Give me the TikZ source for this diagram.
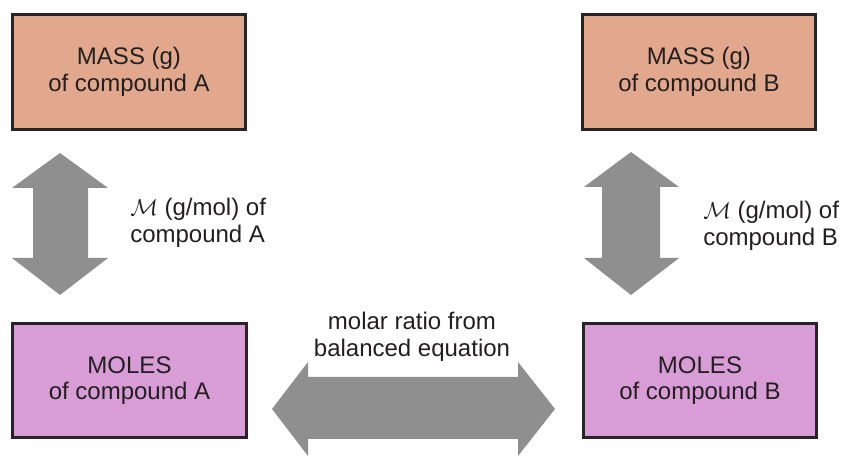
\documentclass[tikz,border=0pt]{standalone}
\usepackage{fontspec}
\setmainfont{Liberation Sans}
\definecolor{peach}{RGB}{226,168,142}
\definecolor{lilac}{RGB}{216,157,214}
\definecolor{arrowgray}{RGB}{143,143,143}
\definecolor{edge}{RGB}{40,36,38}
\definecolor{ink}{RGB}{35,31,32}
\begin{document}
\begin{tikzpicture}[x=0.75pt,y=-0.75pt,
  box/.style={draw=edge,line width=2.2pt,minimum width=175pt,minimum height=86pt,
    inner sep=0pt,align=center,text=ink,font=\fontsize{18}{20}\selectfont},
  massbox/.style={box,fill=peach},
  molebox/.style={box,fill=lilac},
  lbl/.style={inner sep=0pt,text=ink,font=\fontsize{18}{20}\selectfont},
  blockarrow/.style={fill=arrowgray,draw=none}]
\clip (0,0) rectangle (844,456);
\fill[white] (0,0) rectangle (844,456);
\node[massbox] (massA) at (129,72) {MASS (g)\\of compound A};
\node[massbox] (massB) at (699,72) {MASS (g)\\of compound B};
\node[molebox] (molA) at (129.5,380.5) {MOLES\\of compound A};
\node[molebox] (molB) at (700,380.5) {MOLES\\of compound B};
% vertical arrow A
\path[blockarrow] (60,153) -- (108,188) -- (88,188) -- (88,258) -- (108,258) -- (60,295)
  -- (12,258) -- (33,258) -- (33,188) -- (12,188) -- cycle;
% vertical arrow B
\path[blockarrow] (631,152) -- (679,187) -- (660,187) -- (660,258) -- (679,258) -- (631,295)
  -- (584,258) -- (602,258) -- (602,187) -- (584,187) -- cycle;
% horizontal arrow
\path[blockarrow] (272,409) -- (308,362) -- (308,377) -- (518,377) -- (518,362) -- (555,409)
  -- (518,456) -- (518,439) -- (308,439) -- (308,456) -- cycle;
\node[lbl,anchor=west,align=left] (mmA) at (130,223) {$\mathcal{M}$ (g/mol) of\\compound A};
\node[lbl,anchor=west,align=left] (mmB) at (703,226) {$\mathcal{M}$ (g/mol) of\\compound B};
\node[lbl,align=center] (ratio) at (412,337) {molar ratio from\\balanced equation};
\end{tikzpicture}
\end{document}
